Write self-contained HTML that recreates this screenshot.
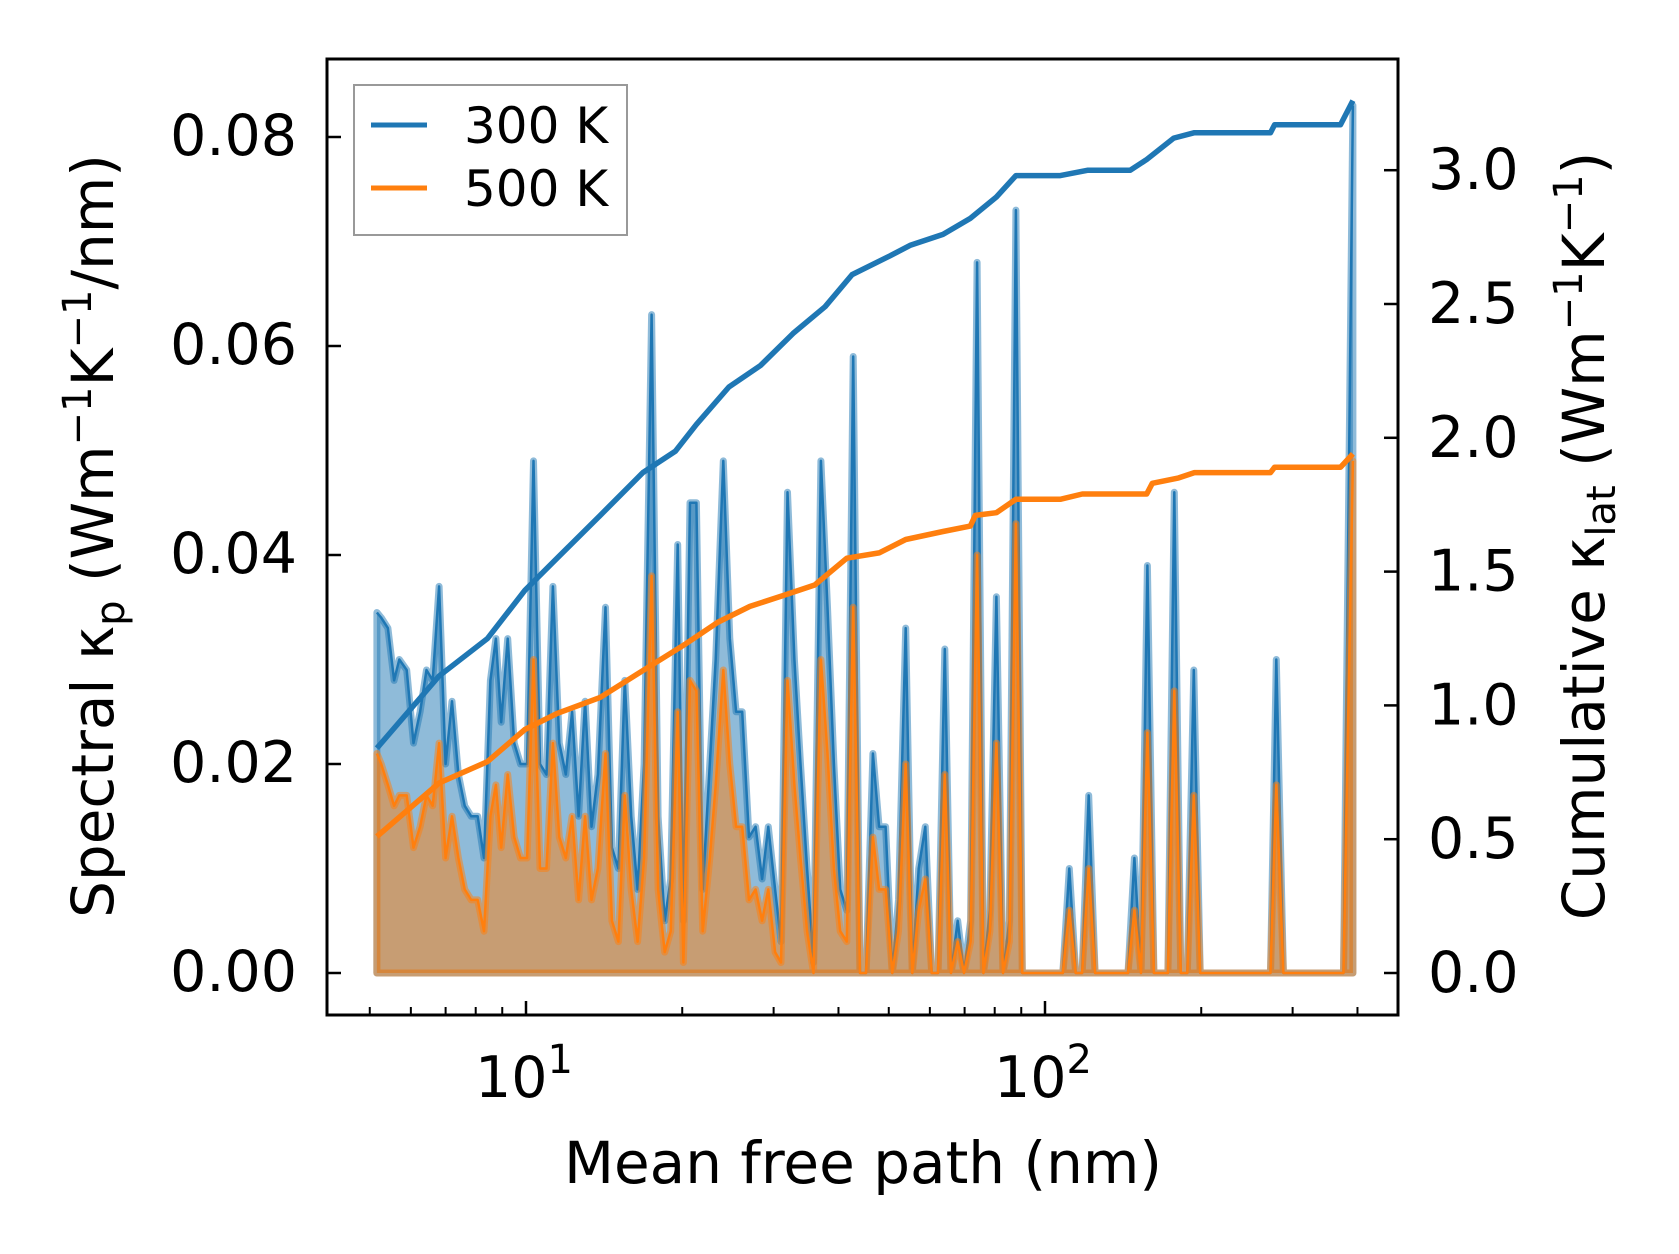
<!DOCTYPE html>
<html><head><meta charset="utf-8"><style>
body{margin:0;background:#fff}
svg{display:block;font-family:"DejaVu Sans","Liberation Sans",sans-serif}
</style></head><body>
<svg id="chart" width="1679" height="1254" viewBox="0 0 1679 1254" xmlns="http://www.w3.org/2000/svg">
<rect width="1679" height="1254" fill="#fff"/>
<g id="plot"></g>
</svg>
<script>
const mfp = [5.16,5.26,5.42,5.57,5.70,5.89,6.07,6.25,6.43,6.61,6.80,7.00,7.20,7.41,7.62,7.84,8.07,8.30,8.54,8.75,8.96,9.22,9.49,9.76,10.05,10.34,10.64,10.95,11.27,11.59,11.93,12.27,12.63,13.0,13.37,13.76,14.23,14.64,15.07,15.50,15.95,16.41,16.89,17.46,17.97,18.5,19.0,19.6,20.1,20.7,21.3,21.9,22.6,23.2,24.0,24.7,25.4,26.1,26.9,27.7,28.5,29.3,30.2,31.0,31.9,32.9,33.8,34.8,35.8,37.0,38.1,39.2,40.3,41.5,42.7,44.0,45.2,46.6,47.9,49.3,50.8,52.2,53.9,55.5,57.1,58.8,60.5,62.2,64.1,65.9,67.9,69.8,71.9,74.0,76.1,78.3,80.6,83.0,85.4,87.9,90.4,108.2,111.4,114.6,117.9,121.4,124.9,144.5,148.7,153.1,157.5,162.1,167.6,172.5,177.5,182.7,188.0,193.5,199.1,272,279,288,376,392];
const spec300 = [.0345,.034,.033,.028,.030,.029,.022,.025,.029,.028,.037,.020,.026,.019,.016,.015,.015,.011,.028,.032,.024,.032,.022,.020,.020,.049,.020,.019,.037,.022,.019,.025,.015,.026,.014,.019,.035,.012,.010,.028,.015,.008,.020,.063,.015,.005,.009,.041,.005,.045,.045,.008,.020,.030,.049,.032,.025,.025,.013,.014,.009,.014,.008,.003,.046,.030,.020,.010,.001,.049,.035,.020,.008,.006,.059,0,0,.021,.014,.014,0,.007,.033,0,.010,.014,0,0,.031,0,.005,0,.005,.068,0,.006,.036,0,.005,.073,0,0,.010,0,0,.017,0,0,.011,0,.039,0,0,0,.046,0,0,.029,0,0,.030,0,0,.083];
const spec500 = [.021,.020,.018,.016,.017,.017,.012,.014,.017,.016,.022,.011,.015,.011,.008,.007,.007,.004,.015,.018,.012,.019,.013,.011,.011,.030,.010,.010,.022,.013,.011,.015,.007,.015,.007,.010,.021,.005,.003,.017,.008,.003,.011,.038,.008,.002,.004,.025,.001,.028,.027,.004,.011,.018,.029,.020,.014,.014,.007,.008,.005,.008,.002,.001,.028,.018,.011,.004,0,.030,.021,.010,.004,.003,.035,0,0,.013,.008,.008,0,.004,.020,0,.006,.009,0,0,.019,0,.003,0,.003,.040,0,.004,.022,0,.003,.043,0,0,.006,0,0,.010,0,0,.006,0,.023,0,0,0,.027,0,0,.017,0,0,.018,0,0,.049];
const cum300X = [5.16,6.80,8.43,9.95,11.48,13.9,16.8,19.4,21.3,24.6,28.3,32.7,37.7,42.5,50.3,55.1,63.6,71.8,80.6,87.9,107,121,146,157,177,194,272,277,371,392];
const cum300 = [0.84,1.11,1.25,1.43,1.55,1.71,1.87,1.95,2.05,2.19,2.27,2.39,2.49,2.61,2.68,2.72,2.76,2.82,2.90,2.98,2.98,3.00,3.00,3.04,3.12,3.14,3.14,3.17,3.17,3.26];
const cum500X = [5.16,6.80,8.43,9.95,11.48,13.9,16.8,20.3,23.4,27.0,31.2,36.0,41.5,47.9,53.9,63.6,71.8,73.4,80.6,87.9,107,118,157,161,181,194,272,277,371,392];
const cum500 = [0.51,0.71,0.79,0.91,0.97,1.03,1.13,1.23,1.31,1.37,1.41,1.45,1.55,1.57,1.62,1.65,1.67,1.71,1.72,1.77,1.77,1.79,1.79,1.83,1.85,1.87,1.87,1.89,1.89,1.94];
const leftTicks = [0,0.02,0.04,0.06,0.08];
const leftTickLabels = ["0.00","0.02","0.04","0.06","0.08"];
const rightTicks = [0,0.5,1,1.5,2,2.5,3];
const rightTickLabels = ["0.0","0.5","1.0","1.5","2.0","2.5","3.0"];
const xMajor = [10,100];

const L=327,R=1398,T=59,B=1015;
const xs = v => 526 + (Math.log10(v)-1)*519;
const yl = v => 973 - v/0.02*209;
const yr = v => 973 - v*267.6;
const NS="http://www.w3.org/2000/svg";
const g=document.getElementById('plot');
function mk(tag,attrs,parent){const e=document.createElementNS(NS,tag);for(const k in attrs)e.setAttribute(k,attrs[k]);(parent||g).appendChild(e);return e;}

function specPath(ys){let d='M'+xs(mfp[0])+','+yl(0);mfp.forEach((x,i)=>{d+='L'+xs(x).toFixed(1)+','+yl(ys[i]).toFixed(1);});d+='L'+xs(mfp[mfp.length-1])+','+yl(0)+'Z';return d;}
function specLine(ys){return mfp.map((x,i)=>(i?'L':'M')+xs(x).toFixed(1)+','+yl(ys[i]).toFixed(1)).join('');}

let e;
e=mk('path',{d:specPath(spec300),fill:'#1f77b4','fill-opacity':0.5,stroke:'#1f77b4','stroke-opacity':0.5,'stroke-width':7,'stroke-linejoin':'round'});

e=mk('path',{d:specLine(spec300),fill:'none',stroke:'#1f77b4','stroke-width':2.5,'stroke-linejoin':'round'});

e=mk('path',{d:specPath(spec500),fill:'#ff7f0e','fill-opacity':0.5,stroke:'#ff7f0e','stroke-opacity':0.5,'stroke-width':7,'stroke-linejoin':'round'});

e=mk('path',{d:specLine(spec500),fill:'none',stroke:'#ff7f0e','stroke-width':2.5,'stroke-linejoin':'round'});


e=mk('path',{d:cum300X.map((x,i)=>(i?'L':'M')+xs(x).toFixed(1)+','+yr(cum300[i]).toFixed(1)).join(''),fill:'none',stroke:'#1f77b4','stroke-width':5.5,'stroke-linejoin':'round'});

e=mk('path',{d:cum500X.map((x,i)=>(i?'L':'M')+xs(x).toFixed(1)+','+yr(cum500[i]).toFixed(1)).join(''),fill:'none',stroke:'#ff7f0e','stroke-width':5.5,'stroke-linejoin':'round'});


e=mk('rect',{x:L,y:T,width:R-L,height:B-T,fill:'none',stroke:'#000','stroke-width':3});


leftTicks.forEach((v,i)=>{
 const y=yl(v);
 let t=mk('line',{x1:L,x2:L+14,y1:y,y2:y,stroke:'#000','stroke-width':2.5});
 
 let tx=mk('text',{x:L-30,y:y+18,'text-anchor':'end','font-size':57});tx.textContent=leftTickLabels[i];
 
});
rightTicks.forEach((v,i)=>{
 const y=yr(v);
 let t=mk('line',{x1:R-14,x2:R,y1:y,y2:y,stroke:'#000','stroke-width':2.5});
 
 let tx=mk('text',{x:R+30,y:y+19,'text-anchor':'start','font-size':57});tx.textContent=rightTickLabels[i];
 
});
for(let d=1;d<=100;d*=10){for(let m=1;m<10;m++){const v=d*m;const x=xs(v);if(x<L||x>R)continue;
 const major=(m===1);
 let t=mk('line',{x1:x,x2:x,y1:B,y2:B-(major?14:8),stroke:'#000','stroke-width':major?2.5:2});
 
}}
xMajor.forEach(v=>{
 const x=xs(v);
 let tx=mk('text',{x:x-2,y:1097,'text-anchor':'middle','font-size':57});
 tx.textContent='10';
 let sp=mk('tspan',{dy:-24,'font-size':40},tx);sp.textContent=String(Math.round(Math.log10(v)));
 
});
</script>
<svg style="position:absolute;left:0;top:0" width="1679" height="1254" xmlns="http://www.w3.org/2000/svg" font-family="DejaVu Sans, Liberation Sans, sans-serif">
<text x="863" y="1183" text-anchor="middle" font-size="58">Mean free path (nm)</text>
<text transform="translate(113,536) rotate(-90)" text-anchor="middle" font-size="58">Spectral κ<tspan font-size="40" dy="11">p</tspan><tspan dy="-11"> (Wm</tspan><tspan font-size="40" dy="-22">−1</tspan><tspan dy="22">K</tspan><tspan font-size="40" dy="-22">−1</tspan><tspan dy="22">/nm)</tspan></text>
<text transform="translate(1604,536) rotate(-90)" text-anchor="middle" font-size="58">Cumulative κ<tspan font-size="40" dy="11">lat</tspan><tspan dy="-11"> (Wm</tspan><tspan font-size="40" dy="-22">−1</tspan><tspan dy="22">K</tspan><tspan font-size="40" dy="-22">−1</tspan><tspan dy="22">)</tspan></text>
<g>
<rect x="354" y="85" width="273" height="150" fill="#fff" fill-opacity="0.8" stroke="#999" stroke-width="2"/>
<line x1="371" x2="427" y1="125" y2="125" stroke="#1f77b4" stroke-width="5"/>
<text x="464" y="143" font-size="50">300 K</text>
<line x1="371" x2="427" y1="188" y2="188" stroke="#ff7f0e" stroke-width="5"/>
<text x="464" y="206" font-size="50">500 K</text>
</g>
</svg>
</body></html>
